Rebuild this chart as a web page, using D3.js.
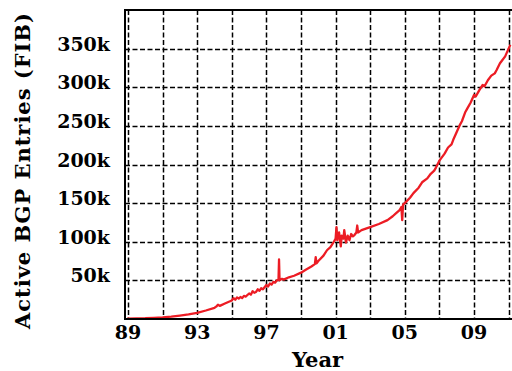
<!DOCTYPE html>
<html>
<head>
<meta charset="utf-8">
<script src="https://cdn.jsdelivr.net/npm/d3@7"></script>
<style>
  html, body { margin: 0; padding: 0; background: #fff; }
  svg { display: block; }
  text { font-family: "DejaVu Serif", "Liberation Serif", serif; font-weight: bold; fill: #000; }
</style>
</head>
<body>
<svg id="chart" width="512" height="371"></svg>
<script>
// ---- data ----
const years = [
  1988.95, 1989.5, 1990.0, 1990.5, 1991.0, 1991.5, 1992.0, 1992.5, 1993.0, 1993.5,
  1994.0, 1994.1, 1994.2, 1994.3, 1994.4, 1994.6, 1994.8, 1995.0, 1995.1, 1995.2,
  1995.3, 1995.4, 1995.5, 1995.6, 1995.7, 1995.8, 1996.0, 1996.1, 1996.2, 1996.3,
  1996.4, 1996.5, 1996.6, 1996.7, 1996.8, 1997.0, 1997.1, 1997.2, 1997.3, 1997.4,
  1997.5, 1997.6, 1997.7, 1997.73, 1997.76, 1997.9, 1998.0, 1998.3, 1998.6,
  1999.0, 1999.3, 1999.6, 1999.8, 1999.85, 1999.9, 2000.0, 2000.3, 2000.5, 2000.7,
  2000.9, 2001.0, 2001.05, 2001.1, 2001.2, 2001.3, 2001.35, 2001.45, 2001.5, 2001.6,
  2001.7, 2001.8, 2001.9, 2002.0, 2002.1, 2002.2, 2002.25, 2002.3, 2002.5, 2003.0,
  2003.5, 2004.0, 2004.3, 2004.5, 2004.7, 2004.8, 2004.85, 2004.9, 2005.0, 2005.3,
  2005.5, 2005.8, 2006.0, 2006.3, 2006.5, 2006.7, 2006.8, 2007.0, 2007.3, 2007.5,
  2007.7, 2007.8, 2008.0, 2008.2, 2008.3, 2008.5, 2008.6, 2008.8, 2009.0, 2009.1,
  2009.3, 2009.5, 2009.6, 2009.8, 2010.0, 2010.2, 2010.3, 2010.5, 2010.6, 2010.8,
  2011.0, 2011.1
];
const fibK = [
  0.5, 0.8, 1.0, 1.5, 2.0, 3.0, 4.5, 6.0, 8.0, 11.0,
  14.5, 16.0, 18.5, 17.0, 18.0, 20.0, 22.0, 24.0, 27.0, 25.0,
  28.0, 26.5, 28.5, 27.0, 30.0, 29.0, 33.0, 31.5, 36.0, 34.0,
  35.0, 38.5, 36.5, 40.0, 38.5, 44.0, 42.0, 46.0, 44.5, 48.0,
  47.0, 50.0, 51.0, 77.0, 50.0, 52.0, 51.0, 54.0, 56.0,
  60.0, 64.0, 68.0, 71.0, 80.0, 72.0, 75.0, 82.0, 89.0, 93.0,
  100.0, 104.0, 119.0, 102.0, 112.0, 94.0, 108.0, 104.0, 115.0, 99.0,
  108.0, 102.0, 110.0, 107.0, 109.0, 112.0, 121.0, 112.0, 115.0, 119.0,
  123.0, 128.0, 133.0, 137.0, 141.0, 145.0, 128.0, 148.0, 150.0, 157.0,
  163.0, 170.0, 177.0, 182.0, 188.0, 192.0, 196.0, 205.0, 214.0, 222.0,
  226.0, 232.0, 242.0, 252.0, 256.0, 268.0, 272.0, 280.0, 290.0, 288.0,
  296.0, 303.0, 301.0, 309.0, 315.0, 318.0, 322.0, 331.0, 334.0, 340.0,
  350.0, 355.0
];
const yTickValues = [50, 100, 150, 200, 250, 300, 350];
const yTickLabels = ["50k", "100k", "150k", "200k", "250k", "300k", "350k"];
const xGridYears = [1989, 1991, 1993, 1995, 1997, 1999, 2001, 2003, 2005, 2007, 2009, 2011];
const xTickYears = [1989, 1993, 1997, 2001, 2005, 2009];
const xTickLabels = ["89", "93", "97", "01", "05", "09"];
const xTitle = "Year";
const yTitle = "Active BGP Entries (FIB)";

// ---- layout ----
const svg = d3.select("#chart");
const mLeft = 125, mRight = 510, mTop = 10, mBottom = 319;

const x = d3.scaleLinear().domain([1988.827, 2011.08]).range([mLeft, mRight]);
const y = d3.scaleLinear().domain([0, 400]).range([mBottom, mTop]);

// grid
const grid = svg.append("g")
  .attr("stroke", "#000").attr("stroke-width", 1.5).attr("stroke-dasharray", "5,2.5").attr("fill", "none");
grid.selectAll("line.h").data(yTickValues).enter().append("line")
  .attr("x1", mLeft).attr("x2", mRight)
  .attr("y1", d => Math.round(y(d)) + 0.5).attr("y2", d => Math.round(y(d)) + 0.5);
grid.selectAll("line.v").data(xGridYears).enter().append("line")
  .attr("x1", d => Math.round(x(d)) + 0.5).attr("x2", d => Math.round(x(d)) + 0.5)
  .attr("y1", mTop).attr("y2", mBottom);

// data line
const pts = years.map((yr, i) => [yr, fibK[i]]);
svg.append("path")
  .datum(pts)
  .attr("fill", "none")
  .attr("stroke", "#ec1c24")
  .attr("stroke-width", 2.3)
  .attr("stroke-linejoin", "round")
  .attr("d", d3.line().x(d => x(d[0])).y(d => y(d[1])));

// axes frame: left, bottom, top
const frame = svg.append("g").attr("stroke", "#000").attr("stroke-width", 2).attr("fill", "none");
frame.append("line").attr("x1", mLeft).attr("x2", mLeft).attr("y1", mTop).attr("y2", mBottom + 1);
frame.append("line").attr("x1", mLeft - 1).attr("x2", mRight + 2).attr("y1", mBottom).attr("y2", mBottom);
frame.append("line").attr("x1", mLeft - 1).attr("x2", mRight + 2).attr("y1", mTop).attr("y2", mTop);

// y tick labels
svg.append("g").selectAll("text").data(yTickValues).enter().append("text")
  .attr("x", 110)
  .attr("y", d => y(d) + 2)
  .attr("text-anchor", "end")
  .attr("font-size", 19)
  .text((d, i) => yTickLabels[i]);

// x tick labels
svg.append("g").selectAll("text").data(xTickYears).enter().append("text")
  .attr("x", d => x(d))
  .attr("y", 339)
  .attr("text-anchor", "middle")
  .attr("font-size", 19)
  .text((d, i) => xTickLabels[i]);

// titles
svg.append("text")
  .attr("x", (mLeft + mRight) / 2).attr("y", 367)
  .attr("text-anchor", "middle").attr("font-size", 21)
  .text(xTitle);
svg.append("text")
  .attr("transform", "translate(30," + 171 + ") rotate(-90)")
  .attr("text-anchor", "middle").attr("font-size", 21)
  .attr("textLength", 316).attr("lengthAdjust", "spacing")
  .text(yTitle);
</script>
</body>
</html>
